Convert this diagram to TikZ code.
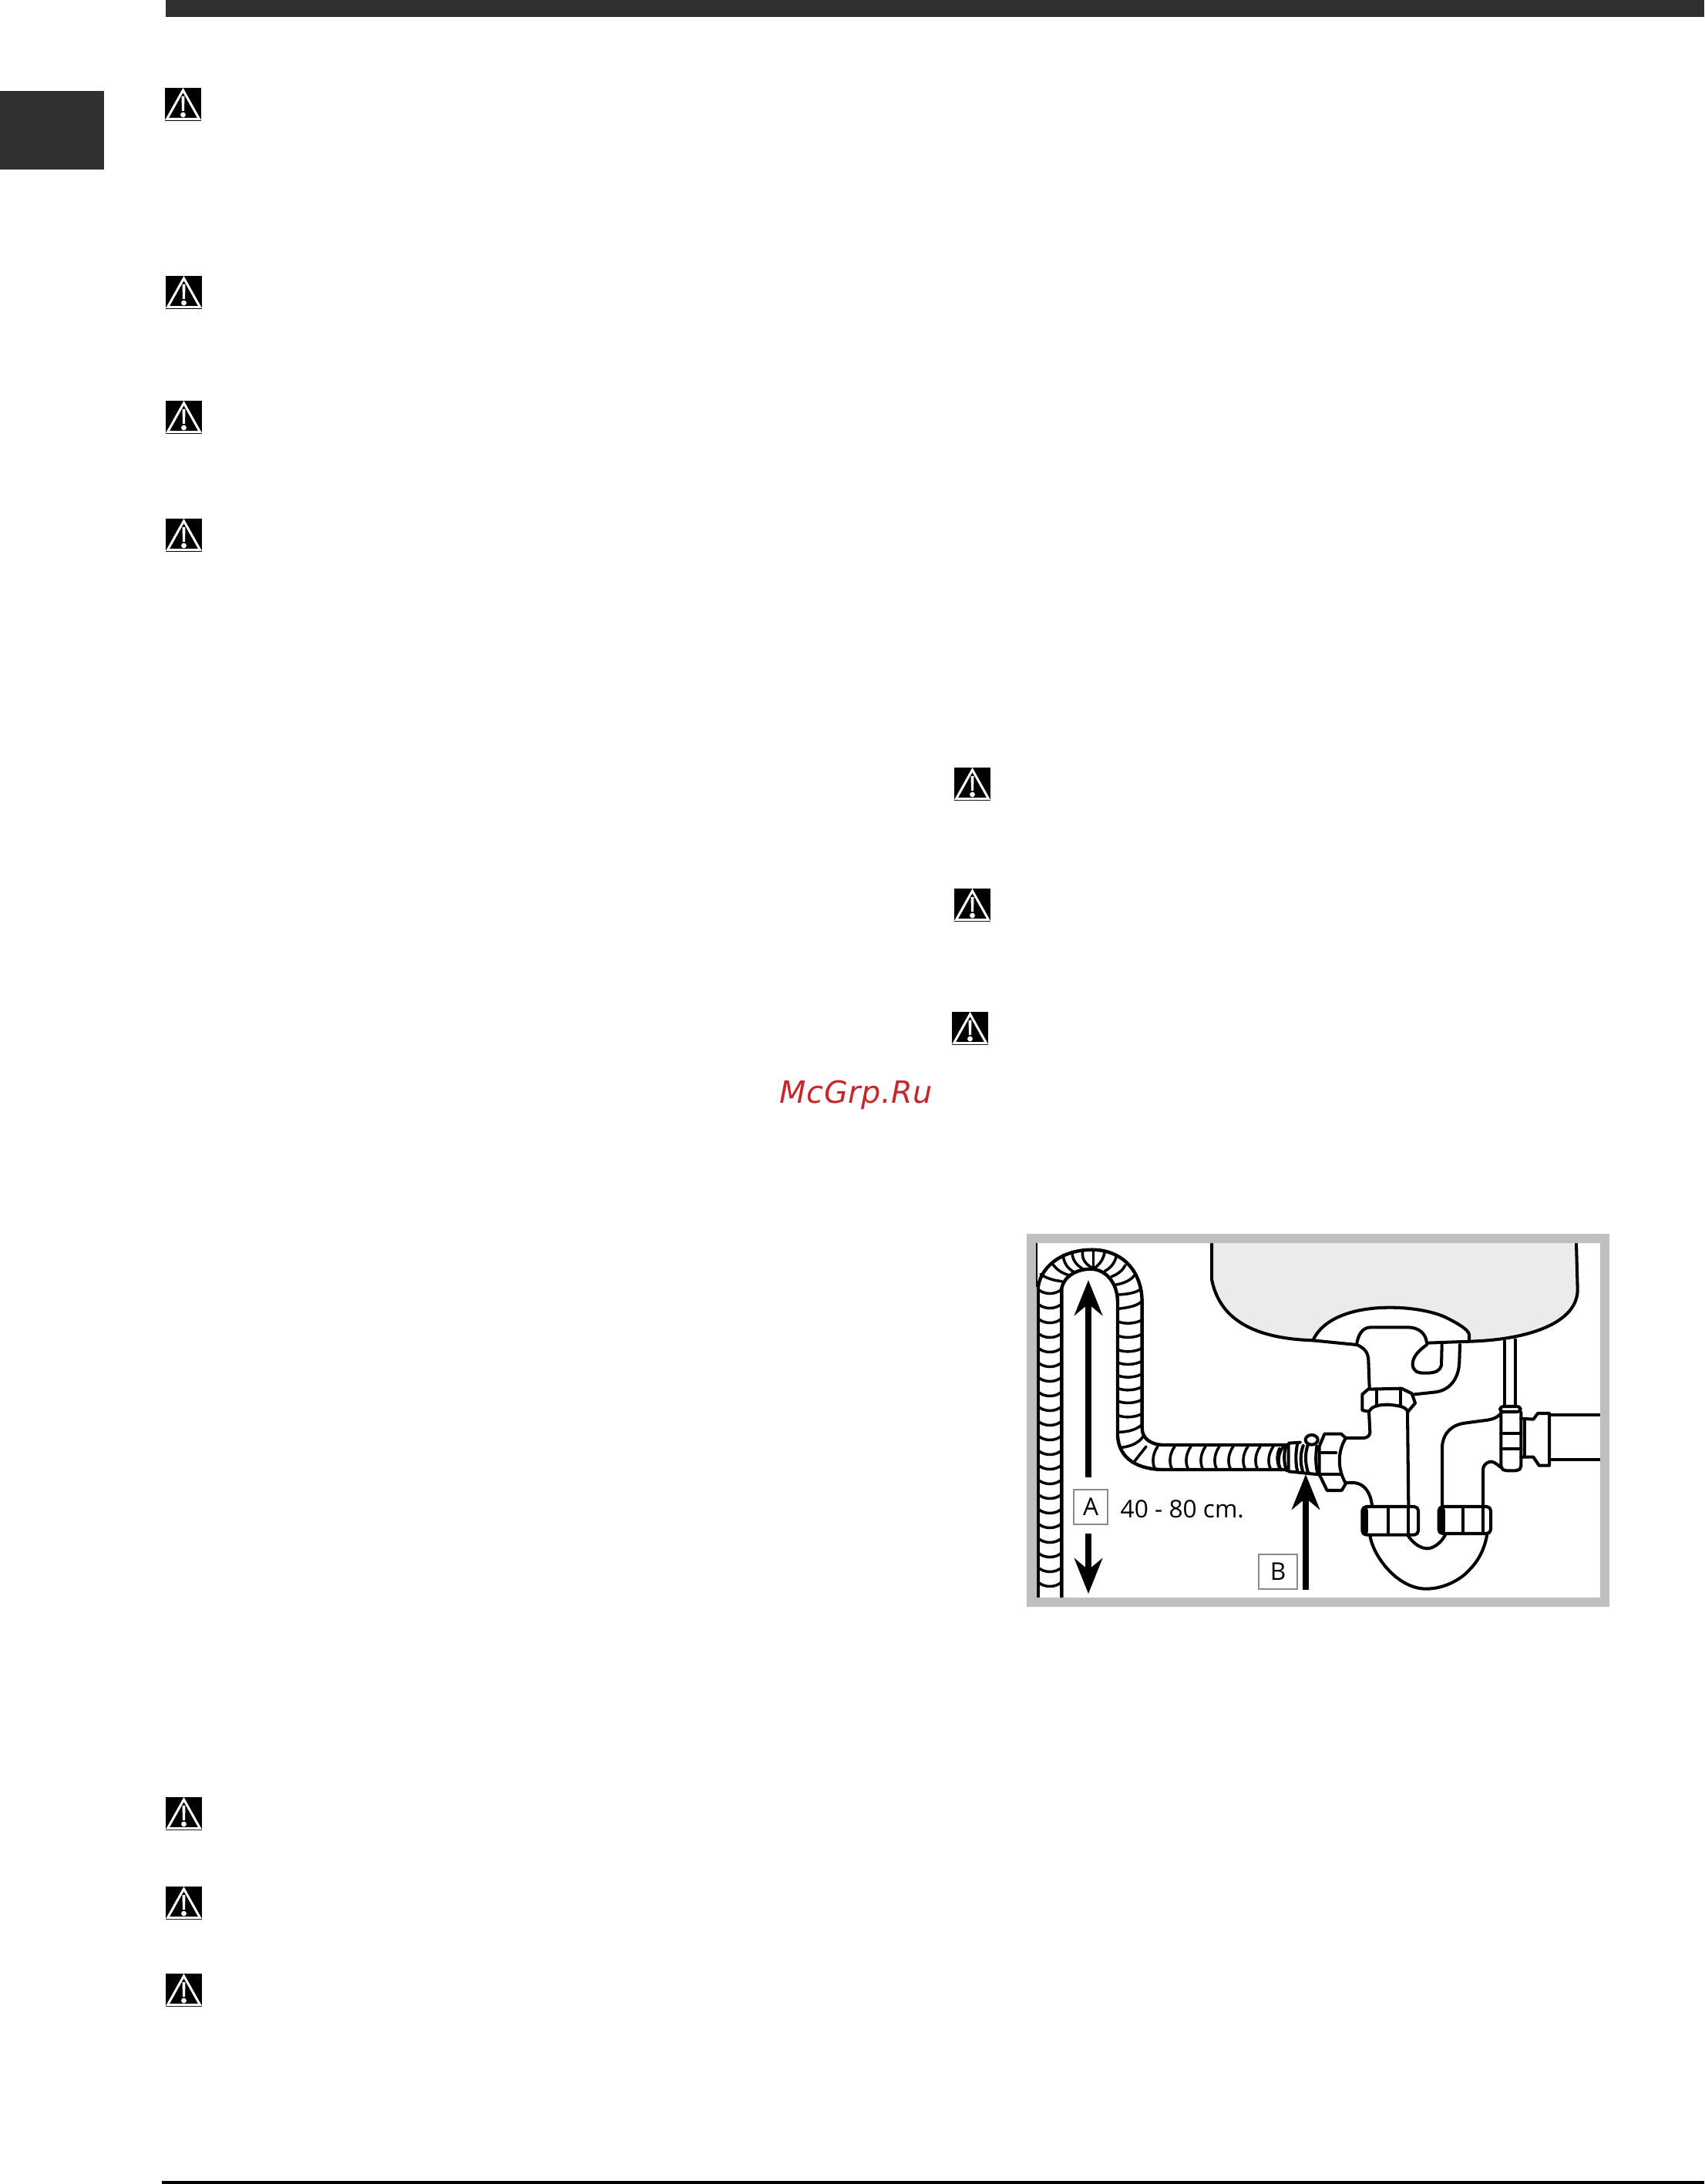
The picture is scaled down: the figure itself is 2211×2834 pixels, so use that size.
\documentclass[tikz,border=0pt]{standalone}
\usepackage{fontspec}
\setmainfont{Open Sans}
\newfontfamily\markfont[LetterSpace=1.5]{DejaVu Sans}
\usetikzlibrary{arrows.meta}
\definecolor{darkbar}{HTML}{303030}
\definecolor{framegray}{HTML}{BFBFBF}
\definecolor{basingray}{HTML}{EBEBEB}
\definecolor{boxgray}{HTML}{8A8A8A}
\definecolor{markred}{HTML}{C9252B}
\begin{document}
\begin{tikzpicture}[
        x=0.01cm, y=-0.01cm,
        pipe/.style={line width=1.15pt, line join=round, line cap=round},
        rib/.style={line width=1pt, line cap=round},
        hosewall/.style={line width=1.25pt},
        bigarrow/.style={line width=2.3pt, -{Stealth[length=13pt, width=10.3pt, inset=4.2pt]}},
        labelbox/.style={draw=boxgray, line width=0.4pt, fill=white, inner sep=0pt, font=\fontsize{9}{9}\selectfont},
        warnicon/.pic={
            \fill[black] (0,0) rectangle (47,43);
            \draw[white, line width=0.85pt, line join=miter] (23.5,3) -- (44.5,40.5) -- (2.5,40.5) -- cycle;
            \fill[white] (21.5,11) -- (25.5,11) -- (25,30) -- (22,30) -- cycle;
            \fill[white] (23.5,35) circle (3.4);
        }
    ]
    \useasboundingbox (0,0) rectangle (2211,2834);

    % page furniture
    \fill[darkbar] (215,0) rectangle (2211,22);
    \fill[darkbar] (0,118) rectangle (135,220);
    \fill[black] (210,2830) rectangle (2211,2834);

    \foreach \wx/\wy in {214/114,215/358,215/520,215/673,1238/996,1238/1153,1235/1313,215/2332,215/2448,215/2561}
        \pic at (\wx,\wy) {warnicon};

    \node[text=markred, font=\markfont\itshape\fontsize{11.3}{11.3}\selectfont] (mark) at (1111,1421) {McGrp.Ru};

    % hose
    \begin{scope}[shift={(1320,1590)}, scale=1/3]
        \draw[hosewall] (80,1449) -- (80,240) .. controls (95,150) and (185,95) .. (290,95)
            .. controls (400,95) and (485,170) .. (485,300) -- (485,790)
            .. controls (485,830) and (520,855) .. (570,855) -- (1056,855);
        \draw[hosewall] (172,1449) -- (172,245) .. controls (180,200) and (230,170) .. (285,170)
            .. controls (340,170) and (390,220) .. (390,300) -- (390,820)
            .. controls (395,910) and (470,951) .. (570,951) -- (1056,951);
        % top of the bend
        \foreach \xa/\ya/\xb/\yb/\xc/\yc in {
            90/190/120/212/172/218, 135/148/160/185/205/195, 178/115/180/160/222/183,
            213/103/212/145/255/170, 255/97/245/140/290/165, 295/95/295/130/295/165,
            340/100/335/140/302/165, 385/120/375/160/340/178, 420/155/405/185/365/200,
            455/195/435/222/380/232, 478/250/450/268/390/270}
            \draw[rib] (\xa,\ya) .. controls ({(\xa+2*\xb)/3},{(\ya+2*\yb)/3}) and ({(\xc+2*\xb)/3},{(\yc+2*\yb)/3}) .. (\xc,\yc);
        % right leg
        \foreach \yy in {380,435,490,540,590,640,690,745}
            \draw[rib] (392,\yy-5) .. controls (420,\yy+5) and (455,\yy+3) .. (482,\yy-10);
        \draw[rib] (392,325) .. controls (430,320) and (465,315) .. (485,295);
        \draw[rib] (392,805) .. controls (430,805) and (465,795) .. (485,775);
        \draw[rib] (405,865) .. controls (445,860) and (475,845) .. (490,820);
    \end{scope}
    \foreach \yy in {1677,1696,1715,1734,1753,1772,1791,1810,1829,1848,1867,1886,1905,1924,1943,1962,1981,2000,2019,2038,2057}
        \draw[rib] (1348,\yy-3) .. controls (1356,\yy+3) and (1368,\yy+3) .. (1376,\yy-3);
    \foreach \xx in {1495,1517,1538,1557,1575,1593,1612,1628,1645,1658}
        \draw[rib] (\xx+7,1877) .. controls (\xx+1,1885) and (\xx-1,1897) .. (\xx+3,1905);
    \draw[rib] (1472,1896) -- (1487,1877);

    % basin
    \begin{scope}[shift={(1650,1650)}, scale=1/3]
        \path[fill=basingray] (-234,-111) -- (-234,30) .. controls (-205,180) and (-80,260) .. (160,268)
            -- (330,285) -- (770,272) .. controls (1000,265) and (1190,200) .. (1190,70) -- (1185,-111) -- cycle;

        % flange
        \path[fill=white] (160,268) .. controls (200,180) and (320,140) .. (460,140)
            .. controls (560,140) and (640,160) .. (680,180) .. controls (720,200) and (765,225) .. (768,245)
            -- (768,272) -- (330,290) -- cycle;
        \draw[pipe] (-234,-111) -- (-234,30) .. controls (-205,180) and (-80,260) .. (160,268) -- (330,285);
        \draw[pipe] (770,272) .. controls (1000,265) and (1190,200) .. (1190,70) -- (1185,-111);
        \draw[pipe] (160,268) .. controls (200,180) and (320,140) .. (460,140)
            .. controls (560,140) and (640,160) .. (680,180) .. controls (720,200) and (765,225) .. (768,245)
            -- (768,272) -- (603,278) .. controls (600,240) and (570,217) .. (530,217)
            -- (385,217) .. controls (350,217) and (335,250) .. (330,285);

        % tailpiece and outlet
        \draw[pipe] (335,287) .. controls (365,300) and (375,320) .. (376,345) -- (380,455);
        \draw[pipe] (378,545) -- (382,625) .. controls (382,640) and (370,648) .. (355,648) -- (285,648);
        \draw[pipe] (285,822) -- (320,822) .. controls (360,825) and (385,860) .. (390,912);
        \draw[pipe] (555,478) -- (630,470) .. controls (690,465) and (728,420) .. (730,350) -- (732,285);
        \draw[pipe] (662,285) -- (660,365) .. controls (655,385) and (640,395) .. (600,395)
            .. controls (565,397) and (548,385) .. (548,360) .. controls (548,330) and (575,305) .. (603,285);
        \draw[pipe] (528,545) -- (532,915);

        % upper nut
        \draw[pipe] (378,545) -- (352,540) -- (352,478) -- (375,458) -- (505,455) -- (545,475) -- (558,512) -- (530,545)
            .. controls (520,530) and (510,522) .. (450,518) .. controls (405,518) and (385,530) .. (378,545);
        \draw[pipe] (408,458) -- (408,522) (500,458) -- (500,525);

        % nut at the hose
        \draw[pipe] (205,632) -- (270,632) -- (288,648) .. controls (255,700) and (255,770) .. (288,825)
            -- (272,852) -- (215,852) -- (185,790) -- (185,680) -- cycle;
        \draw[pipe] (187,705) -- (250,705) (190,790) -- (268,790);
        \draw[pipe] (175,680) .. controls (170,720) and (170,750) .. (178,785);

        % clamp
        \draw[pipe] (110,665) -- (65,668) -- (65,778) -- (182,790);
        \draw[pipe] (100,670) .. controls (92,700) and (92,750) .. (100,778);
        \draw[pipe] (122,678) .. controls (110,710) and (110,750) .. (122,782);
        \draw[pipe] (140,675) .. controls (128,710) and (130,750) .. (142,785);
        \draw[pipe] (30,690) .. controls (18,715) and (20,750) .. (35,772);
        \draw[pipe] (55,680) .. controls (45,710) and (47,750) .. (58,775);
        \draw[pipe, fill=white] (155,655) ellipse [x radius=24, y radius=19];

        % lower nuts
        \draw[pipe, rounded corners=1.5pt, fill=white] (352,915) rectangle (570,1025);
        \draw[line width=2.6pt, line cap=round] (362,930) -- (362,1012);
        \draw[pipe] (453,915) -- (453,1022) (530,915) -- (530,1022);
        \draw[pipe, rounded corners=1.5pt, fill=white] (650,915) rectangle (852,1020);
        \draw[line width=3pt, line cap=round] (660,930) -- (660,1008);
        \draw[pipe] (745,915) -- (745,1020) (822,915) -- (822,1020);

        % U bend
        \draw[pipe] (382,1028) .. controls (395,1110) and (490,1235) .. (600,1235)
            .. controls (680,1235) and (745,1190) .. (770,1160) .. controls (810,1120) and (830,1070) .. (838,1022);
        \draw[pipe] (530,1028) .. controls (555,1065) and (585,1078) .. (605,1078)
            .. controls (630,1078) and (660,1055) .. (675,1025);

        % right riser
        \draw[pipe] (663,915) -- (663,680) .. controls (668,620) and (710,595) .. (750,590)
            -- (840,578) .. controls (870,572) and (880,565) .. (892,552);
        \draw[pipe] (822,915) -- (822,770) .. controls (825,745) and (845,740) .. (855,740)
            .. controls (870,742) and (880,755) .. (892,762);

        % rod and valve
        \draw[pipe] (905,270) -- (905,525) (948,265) -- (948,525);
        \draw[pipe, rounded corners=1pt] (892,548) -- (892,765) -- (905,775) -- (958,775) -- (970,765) -- (970,548);
        \draw[pipe, rounded corners=1.2pt] (888,525) rectangle (968,546);
        \draw[pipe] (892,630) -- (970,630) (892,690) -- (970,690);
        \draw[pipe] (985,575) -- (985,722);
        \draw[pipe] (970,572) -- (1018,575) -- (1035,552) -- (1080,552) -- (1080,755) -- (1040,755) -- (1018,722) -- (970,722);
        \draw[pipe] (1080,558) -- (1278,558) (1080,732) -- (1278,732);
    \end{scope}

    % frame
    \fill[framegray, even odd rule] (1332,1601) rectangle (2088,2085) (1345,1613) rectangle (2076,2073);
    \draw[line width=0.3pt] (1345,1613) -- (1345,1670);

    % arrows and labels
    \coordinate (upstart) at (1412,1917);
    \coordinate (uptip) at (1412,1661);
    \coordinate (downstart) at (1412,1990);
    \coordinate (downtip) at (1412,2068);
    \coordinate (bstart) at (1694,2063);
    \coordinate (btip) at (1694,1913);
    \draw[bigarrow] (upstart) -- (uptip);
    \draw[bigarrow] (downstart) -- (downtip);
    \draw[bigarrow] (bstart) -- (btip);

    \node[labelbox, minimum width=0.44cm, minimum height=0.45cm] (boxa) at (1415,1955.5) {A};
    \node[labelbox, minimum width=0.5cm, minimum height=0.45cm] (boxb) at (1658,2039.5) {B};
    \node[inner sep=0pt, anchor=west, font=\fontsize{9}{9}\selectfont] (range) at (1453,1958) {40 - 80 cm.};
\end{tikzpicture}
\end{document}
